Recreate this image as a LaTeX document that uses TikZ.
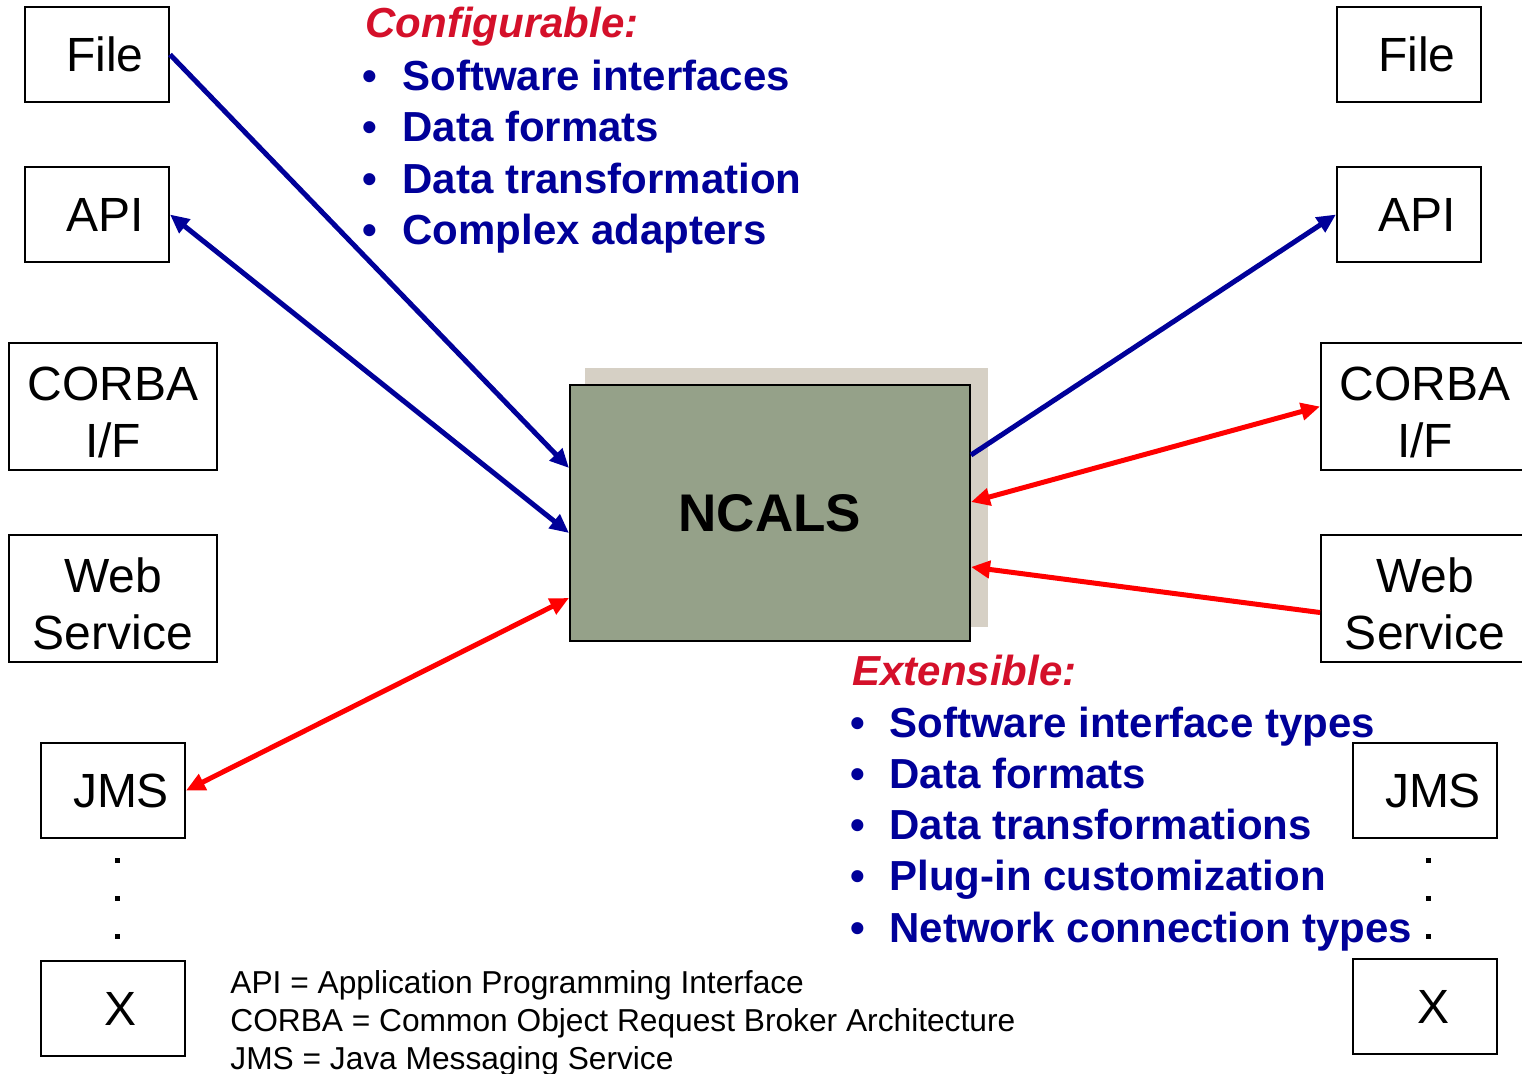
\documentclass[tikz,border=0pt]{standalone}
\usepackage{fontspec}
\setmainfont{Liberation Sans}
\usetikzlibrary{arrows.meta}

\definecolor{navy}{HTML}{000099}
\definecolor{crimson}{HTML}{D4102A}
\definecolor{boxgreen}{HTML}{95A189}
\definecolor{boxshadow}{HTML}{D6D0C5}

\tikzset{
  >={Triangle[length=9.5pt,width=8.5pt]},
  iface/.style={draw=black, line width=1pt, fill=white, inner sep=0pt,
    align=center, font=\fontsize{24}{28.5}\selectfont},
  smallbox/.style={iface, minimum width=72pt, minimum height=47.5pt},
  widebox/.style={iface, minimum width=104pt, minimum height=63.5pt},
  core/.style={draw=black, line width=1pt, fill=boxgreen, inner sep=0pt,
    minimum width=200pt, minimum height=128pt,
    font=\bfseries\fontsize{26.5}{30}\selectfont},
  listhead/.style={anchor=base west, text=crimson, inner sep=0pt,
    font=\bfseries\itshape\fontsize{21}{25}\selectfont},
  listitem/.style={anchor=base west, text=navy, inner sep=0pt,
    font=\bfseries\fontsize{21}{25}\selectfont},
  note/.style={anchor=base west, inner sep=0pt, font=\fontsize{15.85}{19}\selectfont},
  bluelink/.style={draw=navy, line width=2.5pt},
  redlink/.style={draw=red, line width=2.5pt},
}
% extra head room so two-line labels sit a little low in their boxes
\newcommand\toproom{\rule{0pt}{22.5pt}}

\begin{document}
\begin{tikzpicture}[x=0.5pt, y=-0.5pt]
\useasboundingbox (0,0) rectangle (1522,1073);

% left-hand interfaces
\node[smallbox] (lfile)  at (97,54.5)   {\hspace*{8pt}File};
\node[smallbox] (lapi)   at (97,214.5)  {\hspace*{8pt}API};
\node[widebox]  (lcorba) at (113,406.5) {\toproom CORBA\\I/F};
\node[widebox]  (lweb)   at (113,598.5) {\toproom Web\\Service};
\node[smallbox] (ljms)   at (113,790.5) {\hspace*{8pt}JMS};
\node[smallbox] (lx)     at (113,1008.5){\hspace*{8pt}X};

% right-hand interfaces
\node[smallbox] (rfile)  at (1409,54.5)  {\hspace*{8pt}File};
\node[smallbox] (rapi)   at (1409,214.5) {\hspace*{8pt}API};
\node[widebox]  (rcorba) at (1425,406.5) {\toproom CORBA\\I/F};
\node[widebox]  (rweb)   at (1425,598.5) {\toproom Web\\Service};
\node[smallbox] (rjms)   at (1425,790.5) {\hspace*{8pt}JMS};
\node[smallbox] (rx)     at (1425,1006.5){\hspace*{8pt}X};

% ellipsis dots between JMS and X
\foreach \yy in {857.5,895.5,933.5} {
  \fill (114.5,\yy) rectangle +(5,5);
  \fill (1426,\yy) rectangle +(5,5);
}

% central system with its offset shadow
\fill[boxshadow] (585,368) rectangle (988,627);
\node[core] (ncals) at (770,513) {NCALS};

% connectors
\draw[bluelink, ->]  (lfile.east) -- ([yshift=22.5pt]ncals.west);
\draw[bluelink, <->] (lapi.east)  -- ([yshift=-10pt]ncals.west);
\draw[redlink, <->]  (ljms.east)  -- ([yshift=-42.5pt]ncals.west);
\draw[bluelink, ->]  ([yshift=29pt]ncals.east)  -- (rapi.west);
\draw[redlink, <->]  ([yshift=5.5pt]ncals.east) -- (rcorba.west);
\draw[redlink, ->]   ([yshift=-7pt]rweb.west)   -- ([yshift=-27pt]ncals.east);

% configurable features
\node[listhead] (confhead) at (365,37) {Configurable:};
\foreach \t [count=\i from 0] in {Software interfaces, Data formats,
    Data transformation, Complex adapters}
  \node[listitem] (conf\i) at (362,90+51.5*\i) {\makebox[20pt][l]{\textbullet}\t};

% extensible features
\node[listhead] (exthead) at (852,685) {Extensible:};
\foreach \t [count=\i from 0] in {Software interface types, Data formats,
    Data transformations, Plug-in customization, Network connection types}
  \node[listitem] (ext\i) at (850,737+51.25*\i) {\makebox[19.5pt][l]{\textbullet}\t};

% abbreviations
\node[note] (abbr1) at (230,993)  {API = Application Programming Interface};
\node[note] (abbr2) at (230,1031) {CORBA = Common Object Request Broker Architecture};
\node[note] (abbr3) at (230,1069) {JMS = Java Messaging Service};
\end{tikzpicture}
\end{document}
